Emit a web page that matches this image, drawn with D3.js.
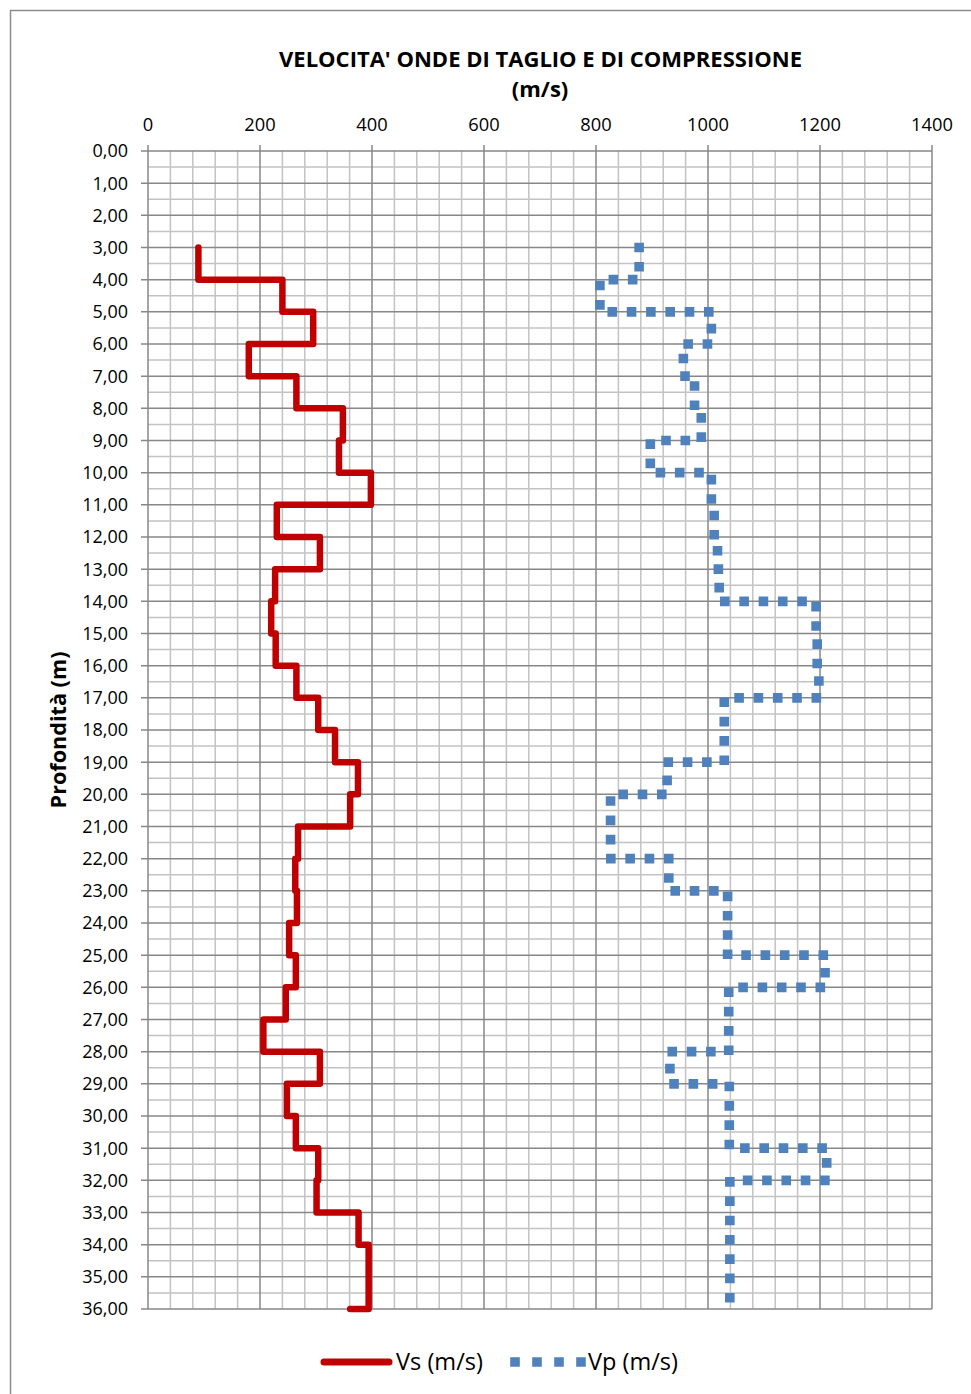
<!DOCTYPE html>
<html><head><meta charset="utf-8">
<script src="https://cdn.jsdelivr.net/npm/d3@7"></script>
<style>body{margin:0;background:#fff}svg{display:block}text{font-family:"Open Sans",sans-serif;fill:#000}</style>
</head><body><svg id="c" width="971" height="1394"></svg>
<script>
// ---- data ----
const titleLines = ["VELOCITA' ONDE DI TAGLIO E DI COMPRESSIONE", "(m/s)"];
const yTitle = "Profondità (m)";
const xTicks = [0, 200, 400, 600, 800, 1000, 1200, 1400];
const depthTicks = d3.range(0, 37);
const seriesNames = ["Vs (m/s)", "Vp (m/s)"];
// Vs: layer top depth and velocity
const vsTop = [3,4,5,6,7,8,9,10,11,12,13,14,15,16,17,18,19,20,21,22,23,24,25,26,27,28,29,30,31,32,33,34,35];
const vsVal = [90,240,295,180,265,348,341,398,230,307,227,220,228,265,304,334,375,361,268,263,266,252,264,246,206,307,248,264,304,301,376,394,394];
const vsTailVal = [361];
const vsTailDepth = [36];
// Vp: layer top depth and velocity
const vpTop = [3,4,5,6,7,8,9,10,11,12,13,14,15,16,17,18,19,20,21,22,23,24,25,26,27,28,29,30,31,32,33,34,35];
const vpVal = [877,807,1006,956,976,988,897,1006,1011,1017,1020,1193,1195,1198,1029,1029,927,826,826,930,1035,1035,1209,1037,1037,932,1038,1038,1212,1039,1039,1039,1039];

// ---- layout ----
const L = 148, R = 932, T = 151, B = 1309;
const svg = d3.select("#c");
const x = d3.scaleLinear().domain([0, 1400]).range([L, R]);
const y = d3.scaleLinear().domain([0, 36]).range([T, B]);

function fit(t, w) {
  const n = t.node(); const fs = parseFloat(t.attr("font-size"));
  const len = n.getComputedTextLength();
  if (len > 0) t.attr("font-size", (fs * w / len).toFixed(2));
}

// outer border
svg.append("rect").attr("x", 10.5).attr("y", 10.5).attr("width", 980).attr("height", 1400)
  .attr("fill", "none").attr("stroke", "#8c8c8c").attr("stroke-width", 1.5);

// grid
const g = svg.append("g");
const minorX = d3.range(0, 1401, 40).filter(v => v % 200 !== 0);
const minorY = d3.range(0.5, 36, 1);
g.selectAll(".mx").data(minorX).join("line")
  .attr("x1", d => x(d)).attr("x2", d => x(d)).attr("y1", T).attr("y2", B)
  .attr("stroke", "#c3c3c3").attr("stroke-width", 1.5);
g.selectAll(".my").data(minorY).join("line")
  .attr("y1", d => y(d)).attr("y2", d => y(d)).attr("x1", L).attr("x2", R)
  .attr("stroke", "#c3c3c3").attr("stroke-width", 1.5);
g.selectAll(".Mx").data(xTicks).join("line")
  .attr("x1", d => x(d)).attr("x2", d => x(d)).attr("y1", T - 6).attr("y2", B)
  .attr("stroke", "#878787").attr("stroke-width", 1.5);
g.selectAll(".My").data(depthTicks).join("line")
  .attr("y1", d => y(d)).attr("y2", d => y(d)).attr("x1", L - 7).attr("x2", R)
  .attr("stroke", "#878787").attr("stroke-width", 1.5);

// tick labels
svg.append("g").selectAll("text").data(xTicks).join("text")
  .attr("x", d => x(d)).attr("y", 131).attr("text-anchor", "middle")
  .attr("font-size", 18.3).text(d => d);
const fmt = d => d3.format(".2f")(d).replace(".", ",");
svg.append("g").selectAll("text").data(depthTicks).join("text")
  .attr("x", 128).attr("y", d => y(d) + 6.4).attr("text-anchor", "end")
  .attr("font-size", 18).text(fmt);

// titles
const t1 = svg.append("text").attr("x", 540.5).attr("y", 67).attr("text-anchor", "middle")
  .attr("font-weight", "bold").attr("font-size", 20).text(titleLines[0]);
fit(t1, 523);
const t2 = svg.append("text").attr("x", 540).attr("y", 97).attr("text-anchor", "middle")
  .attr("font-weight", "bold").attr("font-size", t1.attr("font-size")).text(titleLines[1]);
const yt = svg.append("text").attr("transform", "translate(66,730) rotate(-90)").attr("text-anchor", "middle")
  .attr("font-weight", "bold").attr("font-size", 20).text(yTitle);
fit(yt, 157);

// series
const line = d3.line().x(d => x(d[0])).y(d => y(d[1]));
const vsPts = vsTop.flatMap((t, i) => [[vsVal[i], t], [vsVal[i], t + 1]])
  .concat(vsTailVal.map((v, i) => [v, vsTailDepth[i]]));
const vpPts = vpTop.flatMap((t, i) => [[vpVal[i], t], [vpVal[i], t + 1]]);

svg.append("path").attr("d", line(vpPts)).attr("fill", "none")
  .attr("stroke", "#4f81bd").attr("stroke-width", 9.6)
  .attr("stroke-linecap", "square").attr("stroke-linejoin", "miter")
  .attr("stroke-dasharray", "0.01 19.3");
svg.append("path").attr("d", line(vsPts)).attr("fill", "none")
  .attr("stroke", "#c00000").attr("stroke-width", 6.5)
  .attr("stroke-linecap", "round").attr("stroke-linejoin", "round");

// legend
const lg = svg.append("g");
lg.append("line").attr("x1", 324).attr("x2", 389).attr("y1", 1362).attr("y2", 1362)
  .attr("stroke", "#c00000").attr("stroke-width", 7).attr("stroke-linecap", "round");
const l1 = lg.append("text").attr("x", 396).attr("y", 1369.5).attr("font-size", 20).text(seriesNames[0]);
fit(l1, 87);
lg.append("line").attr("x1", 515).attr("x2", 581).attr("y1", 1362).attr("y2", 1362)
  .attr("stroke", "#4f81bd").attr("stroke-width", 9.6).attr("stroke-linecap", "square")
  .attr("stroke-dasharray", "0.01 21.99");
const l2 = lg.append("text").attr("x", 588).attr("y", 1369.5).attr("font-size", 20).text(seriesNames[1]);
fit(l2, 90);
</script></body></html>
